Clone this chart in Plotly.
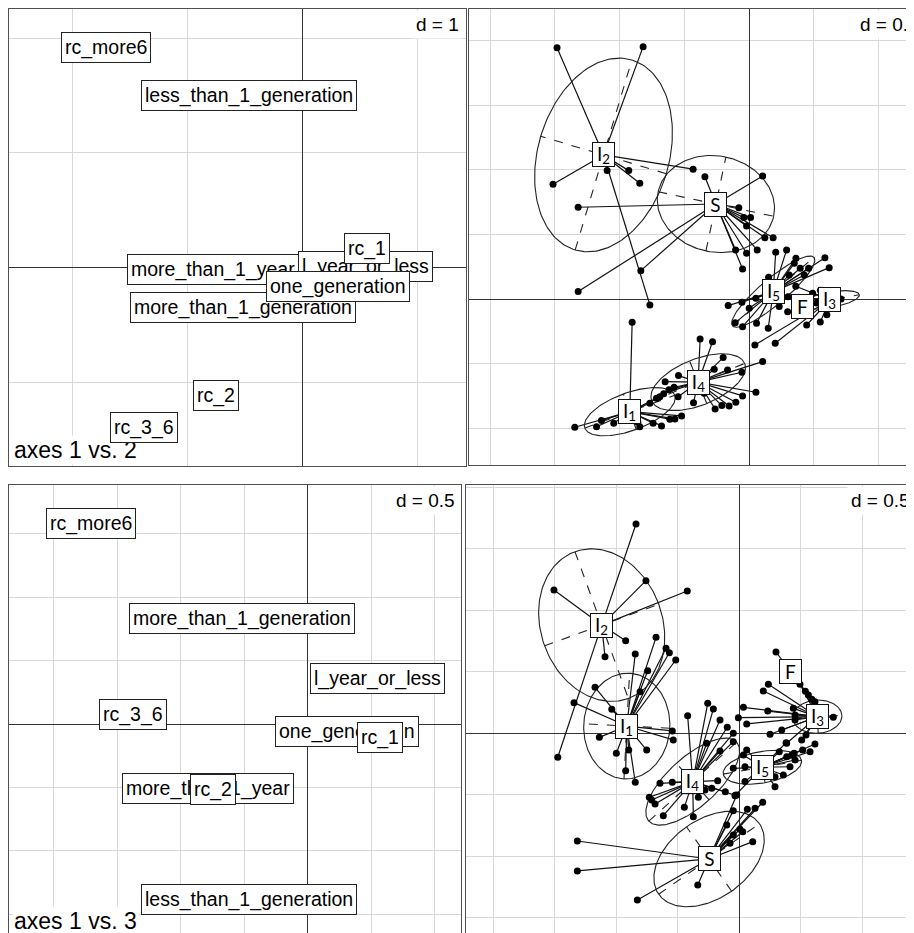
import numpy as np
import plotly.graph_objects as go

# ---------------- data ----------------
# modality scores (left panels), drawing order = overlap order
modalities = ["more_than_1_year", "l_year_or_less", "less_than_1_generation",
              "more_than_1_generation", "one_generation",
              "rc_1", "rc_2", "rc_3_6", "rc_more6"]
mod_ax1 = [-0.782, 0.548, -0.463, -0.520, 0.312, 0.568, -0.749, -1.378, -1.709]
mod_ax2 = [-0.013, 0.006, 1.504, -0.347, -0.167, 0.169, -1.116, -1.392, 1.921]
mod_ax3 = [-0.510, 0.359, -1.386, 0.832, -0.058, -0.109, -0.517, 0.079, 1.580]

classes = ["I1", "I2", "I3", "I4", "I5", "F", "S"]
class_text = ["I<sub>1</sub>", "I<sub>2</sub>", "I<sub>3</sub>", "I<sub>4</sub>",
              "I<sub>5</sub>", "F", "S"]

# individuals, axes 1 vs 2
I1_ax12 = [(-0.904, -0.178), (-1.347, -0.989), (-1.179, -0.985), (-1.141, -0.938), (-1.046, -0.958),
           (-0.845, -0.985), (-0.742, -0.958), (-0.677, -0.979), (-0.613, -0.927), (-0.574, -0.925),
           (-0.522, -0.902), (-0.767, -0.804), (-0.716, -0.765), (-0.690, -0.753), (-0.86, -0.95),
           (-0.97, -0.90)]
I2_ax12 = [(-1.484, 1.944), (-0.819, 1.952), (-1.515, 0.889), (-1.097, 0.994), (-0.930, 0.994),
           (-0.845, 0.896), (-0.433, 1.005), (-0.767, -0.044)]
I3_ax12 = [(0.490, 0.046), (0.444, -0.199), (0.549, -0.175), (0.709, 0.002), (0.52, -0.03),
           (0.56, 0.02), (0.58, -0.07), (0.60, -0.12), (0.55, 0.07), (0.36, 0.10), (0.30, 0.02),
           (0.40, -0.05), (0.044, -0.353), (0.201, -0.340)]
I4_ax12 = [(-0.379, -0.307), (-0.283, -0.328), (-0.201, -0.451), (-0.270, -0.541), (-0.167, -0.546),
           (-0.056, -0.564), (0.104, -0.482), (0.052, -0.719), (-0.051, -0.747), (-0.103, -0.796),
           (-0.155, -0.825), (-0.211, -0.822), (-0.263, -0.848), (-0.348, -0.726), (-0.430, -0.799),
           (-0.549, -0.753), (-0.649, -0.637), (-0.546, -0.590), (-0.62, -0.70), (-0.66, -0.73),
           (-0.58, -0.68)]
I5_ax12 = [(0.205, 0.363), (0.289, 0.381), (0.361, 0.317), (0.348, 0.278), (0.394, 0.240),
           (0.459, 0.240), (0.425, 0.188), (0.309, 0.188), (0.585, 0.321), (0.618, 0.244),
           (0.150, 0.170), (-0.162, -0.049), (-0.056, -0.023), (0.0, -0.070), (0.052, 0.008),
           (-0.108, -0.181), (-0.051, -0.212), (0.057, -0.185), (0.147, -0.224), (0.232, -0.057)]
F_ax12 = [(0.297, -0.096), (0.535, -0.019)]
S_ax12 = [(-0.342, 0.947), (0.104, 0.953), (-0.080, 0.708), (-0.041, 0.631), (0.011, 0.631),
          (-0.020, 0.566), (0.121, 0.476), (0.185, 0.476), (-0.105, 0.381), (-0.020, 0.355),
          (0.062, 0.381), (-0.051, 0.234), (-1.321, 0.711), (-0.837, 0.221), (-1.321, 0.059)]

cent12_x = [-0.922, -1.125, 0.624, -0.394, 0.186, 0.410, -0.257]
cent12_y = [-0.869, 1.115, -0.005, -0.641, 0.059, -0.057, 0.736]
ell12_a = [0.370, 0.766, 0.23, 0.387, 0.411, None, 0.456]
ell12_b = [0.146, 0.506, 0.06, 0.178, 0.10, None, 0.371]
ell12_ang = [20, 73.4, 10, 22, 40, None, -12]

# individuals, axes 1 vs 3
I1_ax13 = [(-0.677, 0.780), (-0.846, 0.645), (-0.596, 0.691), (-0.569, 0.655), (-0.517, 0.596),
           (-0.745, 0.509), (-0.807, 0.338), (-1.173, 0.374), (-1.344, 0.249), (-1.037, 0.195),
           (-0.545, 0.019), (-0.537, -0.054), (-1.138, -0.033), (-1.0, -0.163), (-0.899, -0.136),
           (-0.753, -0.136), (-0.924, -0.304), (-0.846, -0.398)]
I2_ax13 = [(-0.840, 1.702), (-1.507, 1.165), (-0.759, 1.241), (-0.423, 1.157), (-0.924, 0.753),
           (-1.092, 0.623), (-1.476, -0.195)]
I3_ax13 = [(0.493, 0.398), (0.561, 0.311), (0.589, 0.276), (0.615, 0.257), (0.236, 0.398),
           (0.195, 0.344), (0.033, 0.211), (0.231, 0.181), (-0.008, 0.127), (0.060, 0.076),
           (0.439, 0.203), (0.453, 0.149), (0.453, 0.108), (0.345, 0.027), (0.250, -0.008),
           (0.542, -0.014), (0.507, -0.054), (0.385, -0.081), (0.764, 0.130)]
I4_ax13 = [(-0.420, 0.143), (-0.257, 0.244), (-0.211, 0.198), (-0.157, 0.108), (-0.098, 0.049),
           (-0.049, 0.0), (-0.265, -0.081), (-0.157, -0.144), (-0.049, -0.068), (-0.645, -0.407),
           (-0.545, -0.398), (-0.732, -0.520), (-0.712, -0.542), (-0.685, -0.575), (-0.618, -0.670),
           (-0.447, -0.602), (-0.374, -0.678), (-0.333, -0.520), (-0.279, -0.461), (-0.176, -0.385),
           (-0.224, -0.447), (-0.114, -0.475), (-0.033, -0.504)]
I5_ax13 = [(0.615, -0.087), (0.575, -0.150), (0.515, -0.136), (0.445, -0.163), (0.385, -0.190),
           (0.325, -0.150), (0.412, -0.272), (0.358, -0.339), (0.290, -0.353), (0.290, -0.434),
           (0.033, -0.176), (0.046, -0.272), (-0.049, -0.285), (0.046, -0.393), (-0.035, -0.507),
           (0.060, -0.136), (0.380, -0.076), (0.426, -0.176), (0.453, -0.217)]
F_ax13 = [(0.298, 0.661), (0.537, 0.342)]
S_ax13 = [(-1.317, -0.876), (-1.317, -1.119), (-0.829, -1.355), (-0.338, -1.233), (0.109, -0.881),
          (-0.076, -0.894), (-0.049, -0.827), (0.006, -0.780), (0.028, -0.800), (-0.102, -0.746),
          (-0.049, -0.629), (-0.021, -0.502), (0.065, -0.618), (0.128, -0.610), (0.190, -0.561)]

cent13_x = [-0.915, -1.119, 0.634, -0.379, 0.187, 0.418, -0.246]
cent13_y = [0.059, 0.880, 0.135, -0.393, -0.276, 0.501, -1.022]
ell13_a = [0.43, 0.635, 0.20, 0.48, 0.323, None, 0.50]
ell13_b = [0.35, 0.494, 0.135, 0.20, 0.128, None, 0.32]
ell13_ang = [87, -70, 3, 42, 10, None, 35]

# ---------------- figure ----------------
# the page has an 8px body margin, so the figure is shrunk by that much
OFF = 8
FW, FH = 914 - OFF, 933 - OFF
LABEL_FONT = "Liberation Sans, Arial, sans-serif"
CLASS_FONT = "Lato, Open Sans, sans-serif"

fig = go.Figure()
annotations = []


def corner(text, px, py, xanchor, yanchor, size, pad):
    annotations.append(dict(x=(px - OFF) / FW, y=1 - (py - OFF) / FH, xref="paper", yref="paper",
                            text=text, showarrow=False, xanchor=xanchor, yanchor=yanchor,
                            font=dict(family=LABEL_FONT, size=size, color="black"),
                            bgcolor="white", borderpad=pad))


# corner texts go first so that the boxed labels sit above them
corner("d = 1", 463, 10, "right", "top", 19, 3)
corner("d = 0.5", 856, 10, "left", "top", 19, 3)
corner("d = 0.5", 459, 486, "right", "top", 19, 3)
corner("d = 0.5", 914, 486, "right", "top", 19, 3)
corner("axes 1 vs. 2", 12, 465, "left", "bottom", 23, 1)
corner("axes 1 vs. 3", 12, 936, "left", "bottom", 23, 1)


def add_class_panel(pts_list, cx, cy, ea, eb, eang, xa, ya):
    for i, pts in enumerate(pts_list):
        sx, sy = [], []
        for x, y in pts:
            sx += [cx[i], x, None]
            sy += [cy[i], y, None]
        fig.add_trace(go.Scatter(x=sx, y=sy, mode="lines", xaxis=xa, yaxis=ya,
                                 line=dict(color="#111111", width=1.2), hoverinfo="skip"))
        if ea[i] is not None:
            t = np.linspace(0, 2 * np.pi, 181)
            th = np.radians(eang[i])
            ex = cx[i] + ea[i] * np.cos(t) * np.cos(th) - eb[i] * np.sin(t) * np.sin(th)
            ey = cy[i] + ea[i] * np.cos(t) * np.sin(th) + eb[i] * np.sin(t) * np.cos(th)
            fig.add_trace(go.Scatter(x=ex, y=ey, mode="lines", xaxis=xa, yaxis=ya,
                                     line=dict(color="#222222", width=1.1), hoverinfo="skip"))
            c, s = np.cos(th), np.sin(th)
            axx = [cx[i] - ea[i] * c, cx[i] + ea[i] * c, None, cx[i] + eb[i] * s, cx[i] - eb[i] * s]
            axy = [cy[i] - ea[i] * s, cy[i] + ea[i] * s, None, cy[i] - eb[i] * c, cy[i] + eb[i] * c]
            fig.add_trace(go.Scatter(x=axx, y=axy, mode="lines", xaxis=xa, yaxis=ya,
                                     line=dict(color="#222222", width=1.1, dash="dash"), hoverinfo="skip"))
    for i, pts in enumerate(pts_list):
        fig.add_trace(go.Scatter(x=[p[0] for p in pts], y=[p[1] for p in pts], mode="markers",
                                 xaxis=xa, yaxis=ya, hoverinfo="skip",
                                 marker=dict(color="black", size=7, line=dict(width=0))))
    for i, lab in enumerate(class_text):
        annotations.append(dict(x=cx[i], y=cy[i], xref=xa, yref=ya, text=lab, showarrow=False,
                                font=dict(family=CLASS_FONT, size=19, color="black"),
                                bgcolor="white", bordercolor="#111", borderwidth=1,
                                borderpad=1, width=19, height=21))


def add_label_panel(xs, ys, xa, ya):
    # invisible anchor trace so the axes exist
    fig.add_trace(go.Scatter(x=xs, y=ys, mode="markers", xaxis=xa, yaxis=ya,
                             marker=dict(size=1, opacity=0), hoverinfo="skip"))
    for lab, x, y in zip(modalities, xs, ys):
        annotations.append(dict(x=x, y=y, xref=xa, yref=ya, text=lab, showarrow=False,
                                font=dict(family=LABEL_FONT, size=19.5, color="black"),
                                bgcolor="white", bordercolor="#222", borderwidth=1, borderpad=3))


add_label_panel(mod_ax1, mod_ax2, "x", "y")
add_class_panel([I1_ax12, I2_ax12, I3_ax12, I4_ax12, I5_ax12, F_ax12, S_ax12],
                cent12_x, cent12_y, ell12_a, ell12_b, ell12_ang, "x2", "y2")
add_label_panel(mod_ax1, mod_ax3, "x3", "y3")
add_class_panel([I1_ax13, I2_ax13, I3_ax13, I4_ax13, I5_ax13, F_ax13, S_ax13],
                cent13_x, cent13_y, ell13_a, ell13_b, ell13_ang, "x4", "y4")


def axis(px0, px1, total, rng, dtick, flip=False, **kw):
    a, b = px0 - OFF, px1 - OFF
    d0, d1 = a / total, min(b / total, 1.0)
    if flip:
        d0, d1 = max(1 - b / total, 0.0), 1 - a / total
    return dict(domain=[d0, d1], range=rng, dtick=dtick, tick0=0, showgrid=True,
                gridcolor="#d8d8d8", gridwidth=1, zeroline=True, zerolinecolor="#333333",
                zerolinewidth=1, showticklabels=False, ticks="", showline=True,
                linecolor="#505050", linewidth=1, fixedrange=True, **kw)


layout_axes = dict(
    xaxis=axis(9, 466, FW, [-2.557, 1.427], 1, anchor="y", mirror=True),
    yaxis=axis(9, 466, FH, [-1.729, 2.255], 1, flip=True, anchor="x", mirror=True),
    xaxis2=axis(469, 926, FW, [-2.164, 1.273], 0.5, anchor="y2", mirror=True),
    yaxis2=axis(9, 465, FH, [-1.281, 2.243], 0.5, flip=True, anchor="x2"),
    xaxis3=axis(9, 461, FW, [-2.353, 1.209], 0.5, anchor="y3", side="top"),
    yaxis3=axis(485, 937, FH, [-1.648, 1.885], 0.5, flip=True, anchor="x3", mirror=True),
    xaxis4=axis(466, 918, FW, [-2.222, 1.420], 0.5, anchor="y4", side="top"),
    yaxis4=axis(485, 937, FH, [-1.624, 2.019], 0.5, flip=True, anchor="x4"),
)

fig.update_layout(
    width=FW, height=FH, margin=dict(l=0, r=0, t=0, b=0),
    paper_bgcolor="white", plot_bgcolor="white",
    showlegend=False, hovermode=False,
    annotations=annotations,
    **layout_axes,
)

fig.write_html("out.html")
